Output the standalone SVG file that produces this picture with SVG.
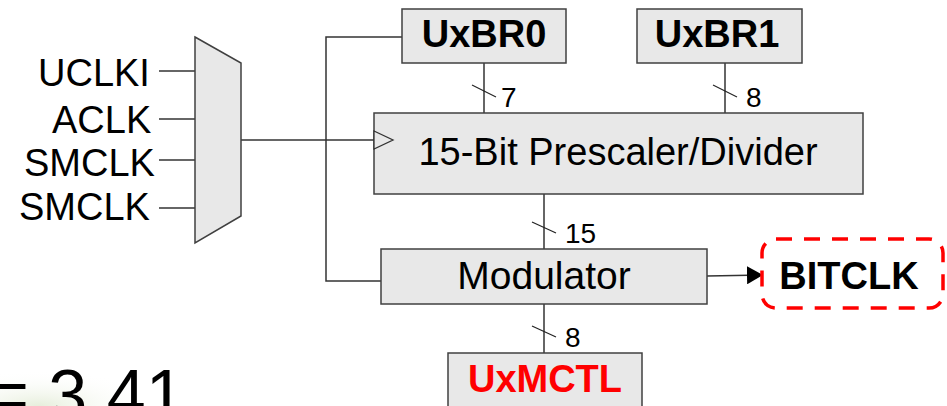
<svg xmlns="http://www.w3.org/2000/svg" width="947" height="406" viewBox="0 0 947 406">
<style>
.box{fill:#e8e8e8;stroke:#404040;stroke-width:1.5}
.wire{fill:none;stroke:#333;stroke-width:1.5}
.tick{fill:none;stroke:#222;stroke-width:1.2}
.lbl{font-family:"Liberation Sans",Arial,sans-serif;fill:#000}
.big{font-size:38px}
.num{font-size:28px}
.bold{font-weight:bold}
</style>
<defs>
<marker id="arr" markerWidth="16" markerHeight="18" refX="16" refY="9" orient="auto" markerUnits="userSpaceOnUse">
<path d="M0,0 L16,9 L0,18 Z" fill="#000"/>
</marker>
<radialGradient id="bg" cx="0.3" cy="1" r="0.9">
<stop offset="0" stop-color="#e6eedb"/>
<stop offset="1" stop-color="#ffffff" stop-opacity="0"/>
</radialGradient>
</defs>
<rect width="947" height="406" fill="#fff"/>
<rect x="0" y="366" width="130" height="40" fill="url(#bg)"/>

<g id="connectors">
<line class="wire" x1="159" y1="71" x2="195" y2="71"/>
<line class="wire" x1="159" y1="119" x2="195" y2="119"/>
<line class="wire" x1="159" y1="160" x2="195" y2="160"/>
<line class="wire" x1="159" y1="208" x2="195" y2="208"/>
<line class="wire" x1="241" y1="140" x2="374" y2="140"/>
<polyline class="wire" points="402,37 326,37 326,281 381,281"/>
<line class="wire" x1="484" y1="63" x2="484" y2="113"/>
<line class="tick" x1="472" y1="85" x2="496" y2="97"/>
<text class="lbl num" x="501" y="107">7</text>
<line class="wire" x1="725" y1="63" x2="725" y2="113"/>
<line class="tick" x1="713" y1="85" x2="737" y2="97"/>
<text class="lbl num" x="746" y="107">8</text>
<line class="wire" x1="544" y1="194" x2="544" y2="249"/>
<line class="tick" x1="532" y1="222" x2="556" y2="233"/>
<text class="lbl num" x="565" y="243">15</text>
<line class="wire" x1="544" y1="304" x2="544" y2="353"/>
<line class="tick" x1="532" y1="326" x2="556" y2="337"/>
<text class="lbl num" x="565" y="347">8</text>
<line class="wire" x1="707" y1="276" x2="763" y2="275" stroke="#000" marker-end="url(#arr)"/>
</g>

<g id="inputs">
<text class="lbl big" x="38" y="86">UCLKI</text>
<text class="lbl big" x="52" y="133">ACLK</text>
<text class="lbl big" x="24" y="176">SMCLK</text>
<text class="lbl big" x="19" y="220">SMCLK</text>
</g>

<g id="mux">
<polygon class="box" points="195,37 241,63 241,216 195,243"/>
</g>

<g id="uxbr0">
<rect class="box" x="402" y="9" width="164" height="54"/>
<text class="lbl big bold" x="484" y="47" text-anchor="middle">UxBR0</text>
</g>

<g id="uxbr1">
<rect class="box" x="637" y="9" width="165" height="54"/>
<text class="lbl big bold" x="717" y="47" text-anchor="middle">UxBR1</text>
</g>

<g id="prescaler">
<rect class="box" x="374" y="113" width="489" height="81"/>
<polygon points="374,131 393,140 374,149" fill="#e8e8e8" stroke="#333" stroke-width="1.3"/>
<text class="lbl big" x="618" y="165" text-anchor="middle">15-Bit Prescaler/Divider</text>
</g>

<g id="modulator">
<rect class="box" x="381" y="249" width="326" height="55"/>
<text class="lbl" font-size="39" x="544" y="289" text-anchor="middle">Modulator</text>
</g>

<g id="bitclk">
<rect x="762" y="239" width="181" height="69" rx="14" ry="14" fill="none" stroke="#ff0000" stroke-width="3.5" stroke-dasharray="16,12"/>
<text class="lbl big bold" x="849" y="289" text-anchor="middle">BITCLK</text>
</g>

<g id="uxmctl">
<rect class="box" x="448" y="353" width="194" height="60"/>
<text class="lbl big bold" x="545" y="392" text-anchor="middle" style="fill:#ff0000">UxMCTL</text>
</g>

<text class="lbl" font-size="70" x="-12" y="419">= 3.41</text>
</svg>
